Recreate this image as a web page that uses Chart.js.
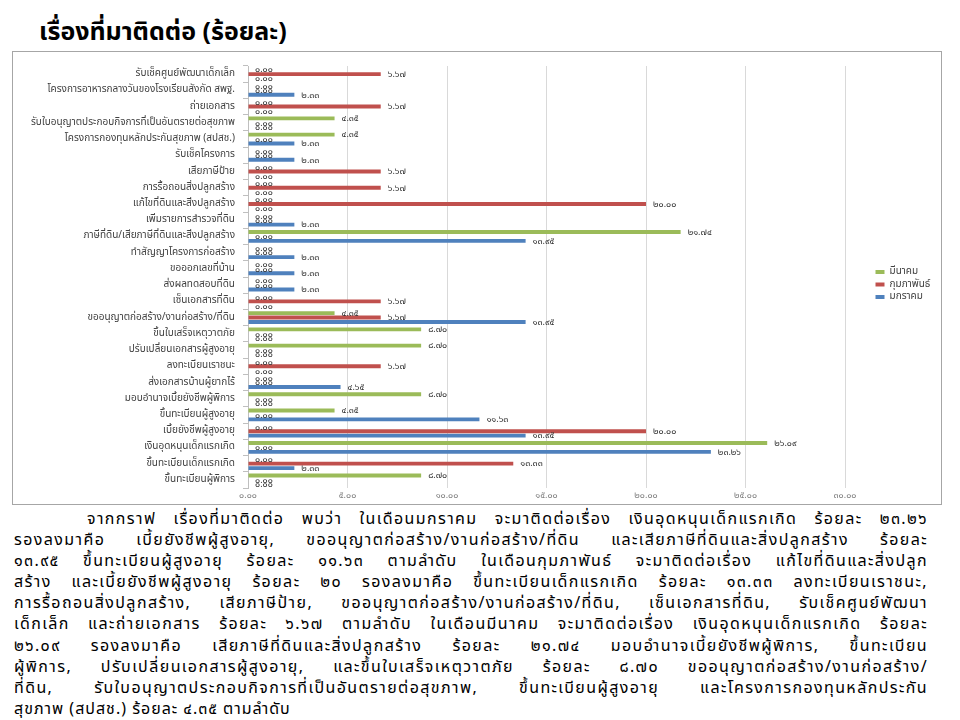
<!DOCTYPE html>
<html lang="th">
<head>
<meta charset="utf-8">
<title>เรื่องที่มาติดต่อ (ร้อยละ)</title>
<script src="https://cdn.jsdelivr.net/npm/chart.js@4.4.1/dist/chart.umd.min.js"></script>
<style>
  body { margin: 0; width: 960px; height: 720px; background: #fff; position: relative; overflow: hidden;
         font-family: 'Noto Sans Thai', 'Noto Sans', sans-serif; }
  h1 { position: absolute; left: 39px; top: 14px; margin: 0; font-size: 25px; font-weight: bold; line-height: 36px; color: #000; }
  #chart-box { position: absolute; left: 12px; top: 51px; width: 928px; height: 452px; border: 1px solid #a6a6a6; }
  #summary { position: absolute; left: 14px; top: 509px; width: 914px; font-size: 16px; letter-spacing: 1.4px;
             line-height: 21.1px; color: #000; }
  #summary div { text-align: justify; text-align-last: justify; white-space: nowrap; }
  #summary .first { padding-left: 73px; }
  #summary .last { text-align-last: left; letter-spacing: 1px; }
</style>
</head>
<body>
<h1>เรื่องที่มาติดต่อ (ร้อยละ)</h1>
<div id="chart-box"><canvas id="contact-chart"></canvas></div>
<div id="summary">
  <div class="first">จากกราฟ เรื่องที่มาติดต่อ พบว่า ในเดือนมกราคม จะมาติดต่อเรื่อง เงินอุดหนุนเด็กแรกเกิด  ร้อยละ ๒๓.๒๖</div>
  <div>รองลงมาคือ เบี้ยยังชีพผู้สูงอายุ,  ขออนุญาตก่อสร้าง/งานก่อสร้าง/ที่ดิน และเสียภาษีที่ดินและสิ่งปลูกสร้าง ร้อยละ</div>
  <div>๑๓.๙๕  ขึ้นทะเบียนผู้สูงอายุ ร้อยละ ๑๑.๖๓ ตามลำดับ  ในเดือนกุมภาพันธ์ จะมาติดต่อเรื่อง แก้ไขที่ดินและสิ่งปลูก</div>
  <div>สร้าง และเบี้ยยังชีพผู้สูงอายุ  ร้อยละ ๒๐ รองลงมาคือ ขึ้นทะเบียนเด็กแรกเกิด  ร้อยละ ๑๓.๓๓  ลงทะเบียนเราชนะ,</div>
  <div>การรื้อถอนสิ่งปลูกสร้าง, เสียภาษีป้าย, ขออนุญาตก่อสร้าง/งานก่อสร้าง/ที่ดิน, เซ็นเอกสารที่ดิน, รับเช็คศูนย์พัฒนา</div>
  <div>เด็กเล็ก และถ่ายเอกสาร ร้อยละ ๖.๖๗ ตามลำดับ  ในเดือนมีนาคม จะมาติดต่อเรื่อง เงินอุดหนุนเด็กแรกเกิด  ร้อยละ</div>
  <div>๒๖.๐๙  รองลงมาคือ เสียภาษีที่ดินและสิ่งปลูกสร้าง  ร้อยละ ๒๑.๗๔  มอบอำนาจเบี้ยยังชีพผู้พิการ,   ขึ้นทะเบียน</div>
  <div>ผู้พิการ,  ปรับเปลี่ยนเอกสารผู้สูงอายุ,  และขึ้นใบเสร็จเหตุวาตภัย ร้อยละ ๘.๗๐  ขออนุญาตก่อสร้าง/งานก่อสร้าง/</div>
  <div>ที่ดิน, รับใบอนุญาตประกอบกิจการที่เป็นอันตรายต่อสุขภาพ, ขึ้นทะเบียนผู้สูงอายุ และโครงการกองทุนหลักประกัน</div>
  <div class="last">สุขภาพ (สปสช.) ร้อยละ ๔.๓๕ ตามลำดับ</div>
</div>
<script>
// categories, top to bottom as in the original
const categories = [
    'รับเช็คศูนย์พัฒนาเด็กเล็ก',
    'โครงการอาหารกลางวันของโรงเรียนสังกัด สพฐ.',
    'ถ่ายเอกสาร',
    'รับใบอนุญาตประกอบกิจการที่เป็นอันตรายต่อสุขภาพ',
    'โครงการกองทุนหลักประกันสุขภาพ (สปสช.)',
    'รับเช็คโครงการ',
    'เสียภาษีป้าย',
    'การรื้อถอนสิ่งปลูกสร้าง',
    'แก้ไขที่ดินและสิ่งปลูกสร้าง',
    'เพิ่มรายการสำรวจที่ดิน',
    'ภาษีที่ดิน/เสียภาษีที่ดินและสิ่งปลูกสร้าง',
    'ทำสัญญาโครงการก่อสร้าง',
    'ขอออกเลขที่บ้าน',
    'ส่งผลทดสอบที่ดิน',
    'เซ็นเอกสารที่ดิน',
    'ขออนุญาตก่อสร้าง/งานก่อสร้าง/ที่ดิน',
    'ขึ้นใบเสร็จเหตุวาตภัย',
    'ปรับเปลี่ยนเอกสารผู้สูงอายุ',
    'ลงทะเบียนเราชนะ',
    'ส่งเอกสารบ้านผู้ยากไร้',
    'มอบอำนาจเบี้ยยังชีพผู้พิการ',
    'ขึ้นทะเบียนผู้สูงอายุ',
    'เบี้ยยังชีพผู้สูงอายุ',
    'เงินอุดหนุนเด็กแรกเกิด',
    'ขึ้นทะเบียนเด็กแรกเกิด',
    'ขึ้นทะเบียนผู้พิการ'
];

const marchValues    = [0, 0, 0, 4.35, 4.35, 0, 0, 0, 0, 0, 21.74, 0, 0, 0, 0, 4.35, 8.70, 8.70, 0, 0, 8.70, 4.35, 0, 26.09, 0, 8.70];
const februaryValues = [6.67, 0, 6.67, 0, 0, 0, 6.67, 6.67, 20.00, 0, 0, 0, 0, 0, 6.67, 6.67, 0, 0, 6.67, 0, 0, 0, 20.00, 0, 13.33, 0];
const januaryValues  = [0, 2.33, 0, 0, 2.33, 2.33, 0, 0, 0, 2.33, 13.95, 2.33, 2.33, 2.33, 0, 13.95, 0, 0, 0, 4.65, 0, 11.63, 13.95, 23.26, 2.33, 0];

const seriesNames = ['มีนาคม', 'กุมภาพันธ์', 'มกราคม'];
const seriesColors = ['#9bbb59', '#c0504d', '#4f81bd'];

const axisMax = 30;
const axisStep = 5;

const FONT = "'Noto Sans Thai', 'Noto Sans', sans-serif";
const thaiDigits = '๐๑๒๓๔๕๖๗๘๙';

function toThai(v) {
    return Number(v).toFixed(2).replace(/[0-9]/g, d => thaiDigits[d]);
}

// value written just past the end of every bar, zeros included
const valueLabels = {
    id: 'valueLabels',
    afterDatasetsDraw(chart) {
        const ctx = chart.ctx;
        ctx.save();
        ctx.font = '9px ' + FONT;
        ctx.fillStyle = '#333333';
        ctx.textBaseline = 'middle';
        ctx.textAlign = 'left';
        chart.data.datasets.forEach((ds, i) => {
            chart.getDatasetMeta(i).data.forEach((bar, j) => {
                ctx.fillText(toThai(ds.data[j]), bar.x + 7, bar.y + 1);
            });
        });
        ctx.restore();
    }
};

// keep the legend column a fixed width and nudge it like the original
const legendSpot = {
    id: 'legendSpot',
    beforeLayout(chart) {
        const lg = chart.legend;
        if (lg && !lg.fixedWidth) {
            const fit = lg.fit;
            lg.fit = function() { fit.call(this); this.width = 96; };
            lg.fixedWidth = true;
        }
    },
    afterLayout(chart) {
        const lg = chart.legend;
        lg.left += 28; lg.right += 28;
        lg.top += 4; lg.bottom += 4;
    }
};

const ctx = document.getElementById('contact-chart').getContext('2d');
new Chart(ctx, {
    type: 'bar',
    data: {
        labels: categories,
        datasets: [marchValues, februaryValues, januaryValues].map((values, i) => ({
            label: seriesNames[i],
            data: values,
            backgroundColor: seriesColors[i],
            categoryPercentage: 0.82,
            barPercentage: 0.88
        }))
    },
    options: {
        indexAxis: 'y',
        responsive: true,
        maintainAspectRatio: false,
        animation: false,
        layout: { padding: { top: 5, right: 0, bottom: 0, left: 0 } },
        plugins: {
            tooltip: { enabled: false },
            legend: {
                position: 'right',
                labels: {
                    boxWidth: 9,
                    boxHeight: 4,
                    padding: 2.5,
                    color: '#404040',
                    font: { family: FONT, size: 10 }
                }
            }
        },
        scales: {
            x: {
                min: 0,
                max: axisMax,
                ticks: {
                    stepSize: axisStep,
                    padding: 3,
                    color: '#7f7f7f',
                    font: { family: FONT, size: 9 },
                    callback: v => toThai(v)
                },
                grid: { color: '#d9d9d9', drawTicks: false },
                border: { display: false },
                afterFit: scale => { scale.height = 16; }
            },
            y: {
                ticks: {
                    autoSkip: false,
                    padding: 8,
                    color: '#404040',
                    font: { family: FONT, size: 10 }
                },
                grid: { drawOnChartArea: false, drawTicks: true, tickLength: 5, color: '#bfbfbf' },
                border: { display: true, color: '#bfbfbf' },
                afterFit: scale => { scale.width = 235; }
            }
        }
    },
    plugins: [valueLabels, legendSpot]
});
</script>
</body>
</html>
